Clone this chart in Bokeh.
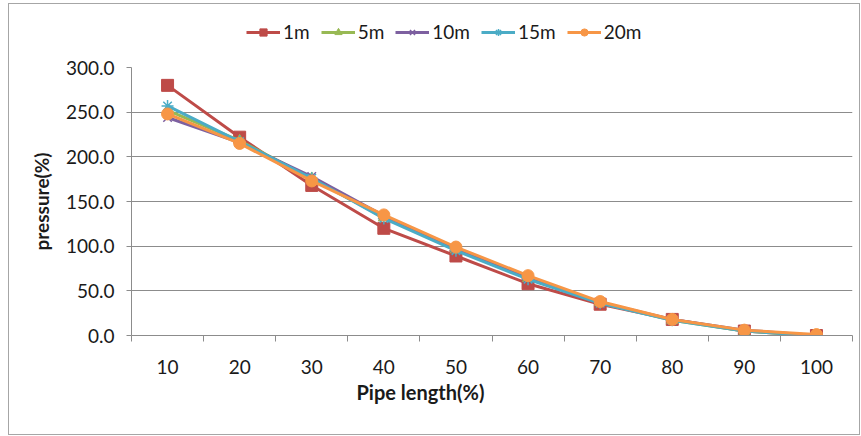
from bokeh.plotting import figure
from bokeh.models import (FixedTicker, NumeralTickFormatter, Range1d, Legend, LegendItem,
                          ColumnDataSource, Title)
from bokeh.layouts import column
from bokeh.embed import file_html
from bokeh.resources import INLINE

pipe_length = [10, 20, 30, 40, 50, 60, 70, 80, 90, 100]
tick_labels = ["10", "20", "30", "40", "50", "60", "70", "80", "90", "100"]
series_names = ["1m", "5m", "10m", "15m", "20m"]
p_1m = [280, 222, 168, 120, 89, 58, 35, 18, 5, 0]
p_5m = [252, 218, 176, 132, 96, 64, 37, 17, 5, 0]
p_10m = [244, 216, 178, 134, 97, 64, 37, 18, 6, 0]
p_15m = [257, 217, 176, 131, 95, 63, 36, 17, 5, 0]
p_20m = [248, 215, 173, 135, 99, 67, 38, 18, 6, 1]
series_values = [p_1m, p_5m, p_10m, p_15m, p_20m]
colors = ["#BE4B48", "#98B954", "#7D60A0", "#4BACC6", "#F79646"]
markers = ["square", "triangle", "x", "asterisk", "circle"]
y_ticks = [0, 50, 100, 150, 200, 250, 300]

FONT = "Lato"
TXT = "#1a1a1a"
GRID = "#8c8c8c"
FS = "19px"


def add_series(fig, xs, ys, c, m):
    src = ColumnDataSource(dict(x=xs, y=ys))
    r1 = fig.line("x", "y", source=src, line_color=c, line_width=3)
    if m in ("x", "asterisk"):
        r2 = fig.scatter("x", "y", source=src, marker=m, size=12, line_color=c, line_width=1.5)
    else:
        sz = 12 if m != "triangle" else 11
        r2 = fig.scatter("x", "y", source=src, marker=m, size=sz, fill_color=c, line_color=c)
    return r1, r2


# ---- main chart ----
p = figure(width=850, height=390, output_backend="svg", toolbar_location=None,
           x_range=Range1d(5, 105), y_range=Range1d(0, 300),
           min_border_left=122, min_border_right=7, min_border_top=23, min_border_bottom=99)
p.outline_line_color = None
p.background_fill_color = "white"
p.border_fill_color = "white"

xa = p.xaxis[0]
xa.ticker = FixedTicker(ticks=pipe_length, minor_ticks=[v - 5 for v in pipe_length] + [pipe_length[-1] + 5])
xa.major_label_overrides = {v: t for v, t in zip(pipe_length, tick_labels)}
xa.major_tick_line_color = None
xa.major_tick_out = 6
xa.major_tick_in = 0
xa.minor_tick_out = 6
xa.minor_tick_in = 0
xa.minor_tick_line_color = GRID
xa.axis_line_color = GRID
xa.major_label_text_font = FONT
xa.major_label_text_font_size = FS
xa.major_label_text_color = TXT
xa.major_label_standoff = 18

xtitle = Title(text="Pipe length(%)", align="left", offset=225, standoff=3,
               text_font=FONT, text_font_style="bold", text_font_size="20px", text_color=TXT)
p.add_layout(xtitle, "below")

ya = p.yaxis[0]
ya.ticker = FixedTicker(ticks=y_ticks)
ya.formatter = NumeralTickFormatter(format="0.0")
ya.minor_tick_line_color = None
ya.major_tick_out = 5
ya.major_tick_in = 0
ya.major_tick_line_color = GRID
ya.axis_line_color = GRID
ya.major_label_text_font = FONT
ya.major_label_text_font_size = FS
ya.major_label_text_color = TXT
ya.major_label_standoff = 12
ya.axis_label = "pressure(%)"
ya.axis_label_text_font = FONT
ya.axis_label_text_font_style = "bold"
ya.axis_label_text_font_size = FS
ya.axis_label_text_color = TXT
ya.axis_label_standoff = 10

p.xgrid.grid_line_color = None
p.ygrid.ticker = FixedTicker(ticks=y_ticks)
p.ygrid.grid_line_color = GRID
p.ygrid.grid_line_width = 1

for vals, c, m in zip(series_values, colors, markers):
    add_series(p, pipe_length, vals, c, m)

# ---- legend strip (same series, drawn out of view; only the legend shows) ----
lf = figure(width=850, height=40, output_backend="svg", toolbar_location=None,
            x_range=Range1d(5, 105), y_range=Range1d(1000, 1001), x_axis_type=None, y_axis_type=None,
            min_border_left=0, min_border_right=0, min_border_top=0, min_border_bottom=0)
lf.outline_line_color = None
lf.grid.visible = False
items = []
for name, vals, c, m in zip(series_names, series_values, colors, markers):
    r1, r2 = add_series(lf, pipe_length, vals, c, m)
    items.append(LegendItem(label=name, renderers=[r1, r2]))
legend = Legend(items=items, orientation="horizontal", location=(115, 1),
                border_line_color=None, background_fill_alpha=0,
                label_text_font=FONT, label_text_font_size=FS, label_text_color=TXT,
                glyph_width=34, glyph_height=18, label_standoff=3, spacing=11,
                padding=0, margin=0)
lf.add_layout(legend, "center")

layout = column(lf, p, spacing=0)
layout.margin = (3, 0, 0, 8)
layout.styles = {"border": "1px solid #a6a6a6"}

open("out.html", "w").write(file_html(layout, INLINE))
